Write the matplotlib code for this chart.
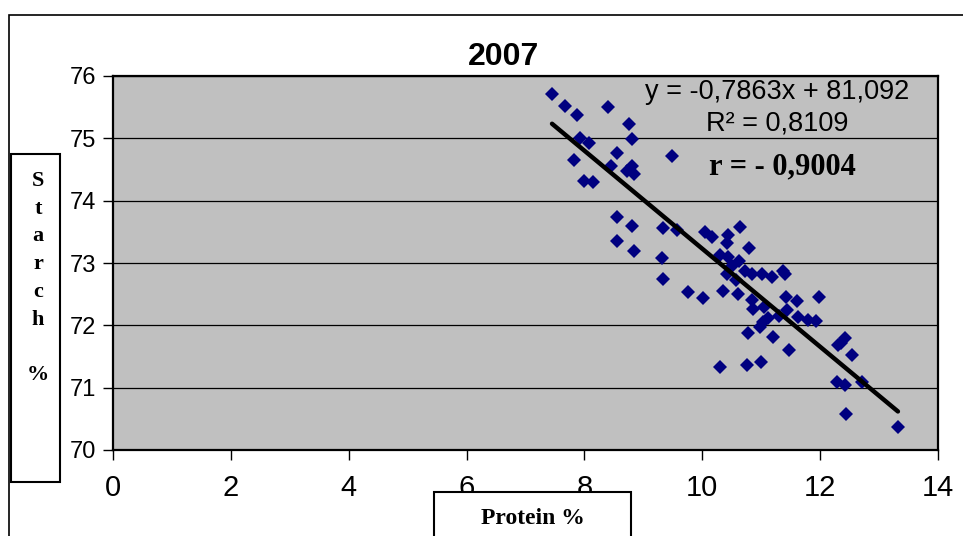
import matplotlib
matplotlib.use('Agg')
from matplotlib import pyplot as plt
from matplotlib.patches import Rectangle
import numpy as np

# Starch vs protein, 2007
protein = [7.45, 7.67, 7.87, 8.40, 8.76, 7.92, 8.07, 8.80, 7.82, 8.55,
           8.45, 8.80, 8.72, 8.84, 7.99, 8.15, 9.49, 8.55, 8.81, 8.55,
           8.84, 9.33, 9.57, 9.32, 9.33, 10.05, 10.16, 9.76, 10.01, 10.44,
           10.64, 10.42, 10.80, 10.30, 10.44, 10.62, 10.42, 10.72, 10.85, 11.02,
           11.18, 11.37, 11.40, 10.35, 10.61, 10.84, 10.86, 11.42, 11.61, 11.98,
           11.05, 11.44, 11.62, 11.93, 11.79, 11.03, 10.78, 10.98, 11.11, 11.20,
           11.47, 10.30, 10.76, 10.99, 12.30, 12.42, 12.54, 12.29, 12.42, 12.71,
           12.44, 13.32, 10.58, 10.50, 11.30, 12.35]
starch = [75.71, 75.52, 75.37, 75.50, 75.23, 75.00, 74.92, 74.99, 74.65, 74.77,
          74.55, 74.55, 74.48, 74.42, 74.32, 74.30, 74.72, 73.74, 73.59, 73.35,
          73.20, 73.56, 73.53, 73.08, 72.75, 73.50, 73.41, 72.53, 72.44, 73.45,
          73.58, 73.32, 73.24, 73.13, 73.10, 73.04, 72.82, 72.87, 72.83, 72.82,
          72.78, 72.87, 72.83, 72.55, 72.50, 72.40, 72.27, 72.45, 72.39, 72.46,
          72.30, 72.25, 72.14, 72.07, 72.09, 72.05, 71.88, 71.97, 72.12, 71.81,
          71.60, 71.33, 71.36, 71.41, 71.68, 71.80, 71.52, 71.09, 71.04, 71.09,
          70.58, 70.37, 72.72, 72.95, 72.15, 71.72]

slope = -0.7863
intercept = 81.092
eq_text = "y = -0,7863x + 81,092"
r2_text = "R² = 0,8109"
r_text = "r = - 0,9004"

x_ticks = [0, 2, 4, 6, 8, 10, 12, 14]
y_ticks = [70, 71, 72, 73, 74, 75, 76]

W, H = 963, 536
fig = plt.figure(figsize=(W / 100, H / 100), dpi=100)
fig.patch.set_facecolor('white')

def fx(px):
    return px / W

def fy(py):
    return 1 - py / H

ax = fig.add_axes([fx(113), fy(450), fx(938) - fx(113), fy(76) - fy(450)])
ax.set_facecolor('#C0C0C0')
ax.set_xlim(0, 14)
ax.set_ylim(70, 76)
ax.set_xticks(x_ticks)
ax.set_yticks(y_ticks)
ax.set_axisbelow(True)
ax.yaxis.grid(True, color='black', linewidth=0.9)
for s in ax.spines.values():
    s.set_linewidth(1.6)
    s.set_color('black')
ax.tick_params(axis='y', direction='out', length=7, width=1, labelsize=17, pad=5)
ax.tick_params(axis='x', direction='out', length=7, width=1, labelsize=21, pad=10)
for lab in ax.get_xticklabels() + ax.get_yticklabels():
    lab.set_family('Liberation Sans')

ax.plot(protein, starch, linestyle='none', marker='D', markersize=7.2,
        color='#000080', markeredgewidth=0, zorder=3)

xl = np.array([min(protein), max(protein)])
ax.plot(xl, slope * xl + intercept, color='black', linewidth=3.2, zorder=4,
        solid_capstyle='round')

ax.text(0.805, 0.957, eq_text, transform=ax.transAxes, ha='center', va='center',
        fontsize=19.5, family='Liberation Sans')
ax.text(0.805, 0.874, r2_text, transform=ax.transAxes, ha='center', va='center',
        fontsize=19.5, family='Liberation Sans')
ax.text(0.811, 0.757, r_text, transform=ax.transAxes, ha='center', va='center',
        fontsize=22, fontweight='bold', family='Liberation Serif')

fig.text(fx(503), fy(57), '2007', ha='center', va='center', fontsize=23,
         fontweight='bold', family='Liberation Sans')

# outer chart frame and label boxes
fig.add_artist(Rectangle((fx(9), fy(600)), fx(1000) - fx(9), fy(15) - fy(600),
                         transform=fig.transFigure, fill=False, edgecolor='black',
                         linewidth=1.2, clip_on=False))
fig.add_artist(Rectangle((fx(11), fy(482)), fx(60) - fx(11), fy(154) - fy(482),
                         transform=fig.transFigure, facecolor='white',
                         edgecolor='black', linewidth=1.5))
fig.add_artist(Rectangle((fx(434), fy(600)), fx(631) - fx(434), fy(492) - fy(600),
                         transform=fig.transFigure, facecolor='white',
                         edgecolor='black', linewidth=1.5, clip_on=False))

fig.text(fx(38), fy(278), 'S\nt\na\nr\nc\nh\n\n%', ha='center', va='center',
         fontsize=16, fontweight='bold', family='Liberation Serif', linespacing=1.52)
fig.text(fx(533), fy(519), 'Protein %', ha='center', va='center', fontsize=17,
         fontweight='bold', family='Liberation Serif')

fig.savefig('out.png', dpi=100)
